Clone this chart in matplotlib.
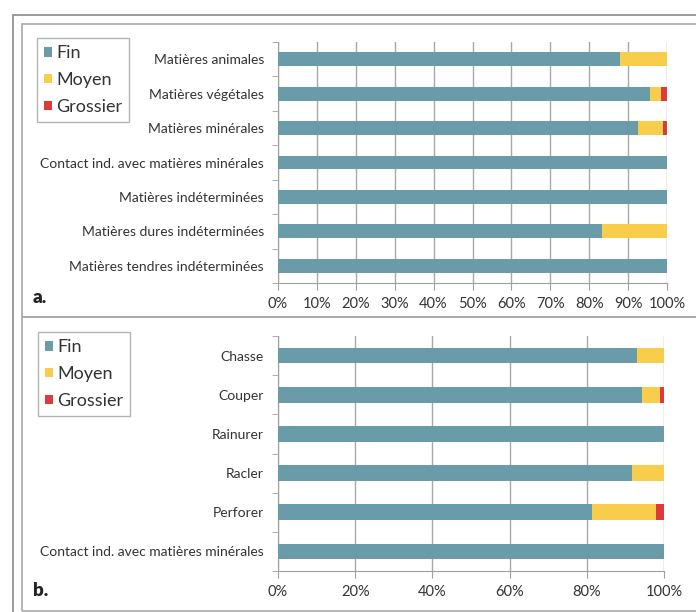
import matplotlib
matplotlib.use('Agg')
import matplotlib.pyplot as plt
from matplotlib.patches import Rectangle
from matplotlib.ticker import FixedLocator, PercentFormatter

plt.rcParams['font.family'] = ['Lato', 'DejaVu Sans']

# panel a: raw material worked
cats_a = ['Matières animales', 'Matières végétales', 'Matières minérales',
          'Contact ind. avec matières minérales', 'Matières indéterminées',
          'Matières dures indéterminées', 'Matières tendres indéterminées']
fin_a = [88.0, 95.7, 92.5, 100, 100, 83.3, 100]
moyen_a = [12.0, 2.7, 6.5, 0, 0, 16.7, 0]
grossier_a = [0, 1.6, 1.0, 0, 0, 0, 0]

# panel b: action
cats_b = ['Chasse', 'Couper', 'Rainurer', 'Racler', 'Perforer',
          'Contact ind. avec matières minérales']
fin_b = [92.9, 94.3, 100, 91.7, 81.4, 100]
moyen_b = [7.1, 4.6, 0, 8.3, 16.4, 0]
grossier_b = [0, 1.1, 0, 0, 2.2, 0]

series = ['Fin', 'Moyen', 'Grossier']
colors = ['#6a9ba8', '#f8cd4b', '#dd3a3a']

W, H = 696, 612
fig = plt.figure(figsize=(W / 100, H / 100), dpi=100)


def fx(px):
    return px / W


def fy(py):
    return 1 - py / H


# frames
fig.patches.append(Rectangle((fx(13), fy(700)), 1.2, fy(15) - fy(700),
                             transform=fig.transFigure, fill=False,
                             edgecolor='#8a8a8a', lw=1.2))
fig.patches.append(Rectangle((fx(22), fy(317)), 1.2, fy(24) - fy(317),
                             transform=fig.transFigure, fill=False,
                             edgecolor='#a8a8a8', lw=1.2))
fig.patches.append(Rectangle((fx(22), fy(611)), 1.2, fy(317) - fy(611),
                             transform=fig.transFigure, fill=False,
                             edgecolor='#a8a8a8', lw=1.2))


def draw_panel(rect, cats, data, step, legend_anchor, tag, tag_pos):
    ax = fig.add_axes(rect)
    n = len(cats)
    ys = list(range(n))[::-1]
    left = [0] * n
    handles = []
    for vals, col, name in zip(data, colors, series):
        b = ax.barh(ys, vals, left=left, height=0.4, color=col, label=name,
                    zorder=3)
        handles.append(b)
        left = [l + v for l, v in zip(left, vals)]
    ax.set_xlim(0, 100)
    ax.set_ylim(-0.5, n - 0.5)
    ax.set_yticks(ys)
    ax.set_yticklabels(cats, fontsize=10, color='#333333')
    ax.yaxis.set_minor_locator(FixedLocator([i - 0.5 for i in range(n + 1)]))
    ax.tick_params(axis='y', which='major', length=0, pad=10)
    ax.tick_params(axis='y', which='minor', length=4, color='#a0a0a0')
    ax.set_xticks(list(range(0, 101, step)))
    ax.xaxis.set_major_formatter(PercentFormatter(decimals=0))
    ax.tick_params(axis='x', length=5, color='#a0a0a0', labelsize=10.5,
                   labelcolor='#333333', pad=5)
    ax.grid(axis='x', color='#a8a8a8', lw=1, zorder=0)
    for s in ['top', 'right']:
        ax.spines[s].set_visible(False)
    for s in ['left', 'bottom']:
        ax.spines[s].set_color('#a0a0a0')
    leg = fig.legend(handles=handles, loc='upper left',
                     bbox_to_anchor=legend_anchor, fontsize=13,
                     frameon=True, fancybox=False, handlelength=0.45,
                     handleheight=0.45, handletextpad=0.2, labelspacing=0.6,
                     borderpad=0.4, borderaxespad=0)
    leg.get_frame().set_edgecolor('#a0a0a0')
    leg.get_frame().set_linewidth(1)
    for t in leg.get_texts():
        t.set_color('#333333')
    fig.text(tag_pos[0], tag_pos[1], tag, fontsize=13.5, fontweight='heavy',
             color='#222222', va='center')
    return ax


draw_panel([fx(278), fy(283), fx(667) - fx(278), fy(42) - fy(283)],
           cats_a, [fin_a, moyen_a, grossier_a], 10,
           (fx(37), fy(38)), 'a.', (fx(33), fy(297)))
draw_panel([fx(278), fy(571), fx(664) - fx(278), fy(336) - fy(571)],
           cats_b, [fin_b, moyen_b, grossier_b], 20,
           (fx(38), fy(332)), 'b.', (fx(33), fy(591)))

fig.savefig('out.png', dpi=100)
